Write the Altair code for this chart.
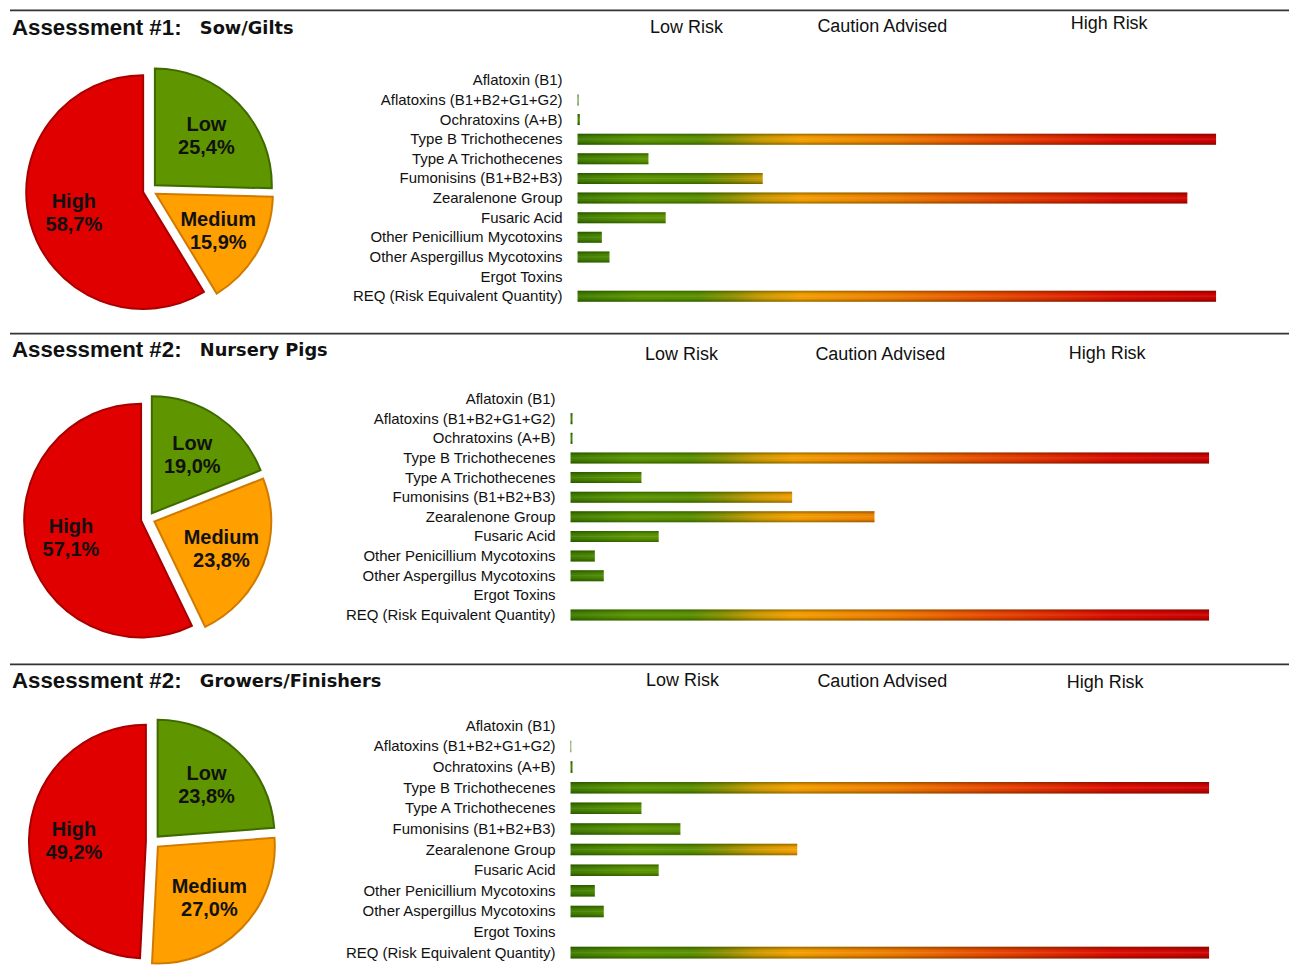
import altair as alt
import pandas as pd

# ---------------- data ----------------
categories = [
    "Aflatoxin (B1)", "Aflatoxins (B1+B2+G1+G2)", "Ochratoxins (A+B)",
    "Type B Trichothecenes", "Type A Trichothecenes", "Fumonisins (B1+B2+B3)",
    "Zearalenone Group", "Fusaric Acid", "Other Penicillium Mycotoxins",
    "Other Aspergillus Mycotoxins", "Ergot Toxins", "REQ (Risk Equivalent Quantity)",
]
risk_labels = ["Low Risk", "Caution Advised", "High Risk"]
slice_names = ["Low", "Medium", "High"]
titles = ["Assessment #1:", "Assessment #2:", "Assessment #2:"]
subtitles = ["Sow/Gilts", "Nursery Pigs", "Growers/Finishers"]

pie_sow = [25.4, 15.9, 58.7]
pie_nursery = [19.0, 23.8, 57.1]
pie_growers = [23.8, 27.0, 49.2]

bars_sow = [0, 0.15, 0.35, 100, 11.1, 29.0, 95.5, 13.8, 3.8, 5.0, 0, 100]
bars_nursery = [0, 0.3, 0.3, 100, 11.1, 34.7, 47.6, 13.8, 3.8, 5.2, 0, 100]
bars_growers = [0, 0.1, 0.3, 100, 11.1, 17.2, 35.5, 13.8, 3.8, 5.2, 0, 100]

# ---------------- styling ----------------
FONT = "Liberation Sans"
PIE_FILL = ["#5f9600", "#ff9f00", "#e00000"]
PIE_STROKE = ["#3f6a00", "#d07a00", "#a80000"]

ABS_STOPS = [
    (0.00, "#3f7c00"), (0.10, "#5a9400"), (0.19, "#5a9000"), (0.24, "#8a9000"),
    (0.29, "#c99a00"), (0.35, "#f5a000"), (0.50, "#f07c00"), (0.65, "#e84a00"),
    (0.85, "#dc0c00"), (1.00, "#cc0000"),
]


def _hex(c):
    return [int(c[i:i + 2], 16) for i in (1, 3, 5)]


def color_at(p):
    for (p0, c0), (p1, c1) in zip(ABS_STOPS[:-1], ABS_STOPS[1:]):
        if p0 <= p <= p1:
            t = 0 if p1 == p0 else (p - p0) / (p1 - p0)
            a, b = _hex(c0), _hex(c1)
            return "#%02x%02x%02x" % tuple(round(a[i] + (b[i] - a[i]) * t) for i in range(3))
    return ABS_STOPS[-1][1]


def bar_gradient(f):
    stops = [alt.GradientStop(offset=p / f, color=c) for p, c in ABS_STOPS if p < f]
    stops.append(alt.GradientStop(offset=1, color=color_at(f)))
    return alt.LinearGradient(gradient="linear", x1=0, y1=0, x2=1, y2=0, stops=stops)


SHADE = alt.LinearGradient(
    gradient="linear", x1=0, y1=0, x2=0, y2=1,
    stops=[
        alt.GradientStop(offset=0, color="rgba(0,30,0,0.38)"),
        alt.GradientStop(offset=0.3, color="rgba(0,0,0,0)"),
        alt.GradientStop(offset=0.5, color="rgba(255,255,255,0.10)"),
        alt.GradientStop(offset=0.7, color="rgba(0,0,0,0)"),
        alt.GradientStop(offset=1, color="rgba(0,30,0,0.38)"),
    ],
)

panels = [
    dict(values=bars_sow, pie=pie_sow, h=332, line_y=10, title_y=35, sub_y=34,
         heads=[(687, 33), (883, 32), (1110, 29)], cx=150, cy=190, R=117,
         r0=80, r1=296, x0=578, x1=1217, lab=563),
    dict(values=bars_nursery, pie=pie_nursery, h=330, line_y=0.5, title_y=24, sub_y=23,
         heads=[(682, 27), (881, 27), (1108, 26)], cx=148, cy=186, R=117,
         r0=66, r1=282, x0=571, x1=1210, lab=556),
    dict(values=bars_growers, pie=pie_growers, h=314, line_y=0.5, title_y=24, sub_y=23,
         heads=[(683, 22), (883, 23), (1106, 24)], cx=153, cy=178, R=117,
         r0=62, r1=289, x0=571, x1=1210, lab=556),
]

EXPLODE = 7
LABEL_R = 72
LABEL_DY = -10


def text_chart(s, x, y, size, bold=False, font=FONT, align="left"):
    return alt.Chart(pd.DataFrame({"t": [s]})).mark_text(
        align=align, baseline="alphabetic", font=font, fontSize=size,
        fontWeight="bold" if bold else "normal", color="#111111",
    ).encode(text="t:N", x=alt.value(x), y=alt.value(y))


def build_panel(i, P):
    n = len(categories)
    step = (P["r1"] - P["r0"]) / (n - 1)
    pin = 0.44
    xs = alt.Scale(domain=[0, 100], range=[P["x0"], P["x1"]], nice=False, zero=True)
    ys = alt.Scale(domain=categories, range=[P["r0"] - step / 2, P["r1"] + step / 2],
                   paddingInner=pin, paddingOuter=pin / 2)
    df = pd.DataFrame({"cat": categories, "v": P["values"]})

    layers = []
    for c, v in zip(categories, P["values"]):
        if v <= 0:
            continue
        layers.append(
            alt.Chart(df).transform_filter(alt.datum.cat == c)
            .mark_bar(color=bar_gradient(v / 100.0))
            .encode(x=alt.X("v:Q", scale=xs, axis=None),
                    y=alt.Y("cat:N", scale=ys, axis=None, sort=categories))
        )
    layers.append(
        alt.Chart(df).transform_filter(alt.datum.v > 0)
        .mark_bar(color=SHADE)
        .encode(x=alt.X("v:Q", scale=xs, axis=None),
                y=alt.Y("cat:N", scale=ys, axis=None, sort=categories))
    )
    layers.append(
        alt.Chart(df).mark_text(align="right", baseline="middle", font=FONT,
                                fontSize=15, color="#111111")
        .encode(x=alt.value(P["lab"]),
                y=alt.Y("cat:N", scale=ys, axis=None, sort=categories),
                text="cat:N")
    )
    bar_group = alt.layer(*layers)

    pdf = pd.DataFrame({"name": slice_names, "v": P["pie"], "o": [0, 1, 2]})
    cx, cy = P["cx"], P["cy"]
    base = (
        alt.Chart(pdf)
        .transform_joinaggregate(total="sum(v)")
        .transform_window(cum="sum(v)", sort=[alt.SortField("o")], frame=[None, 0])
        .transform_calculate(
            t0="2*PI*(datum.cum-datum.v)/datum.total",
            t1="2*PI*datum.cum/datum.total",
        )
        .transform_calculate(mid="(datum.t0+datum.t1)/2")
        .transform_calculate(
            px=f"{cx}+{EXPLODE}*sin(datum.mid)",
            py=f"{cy}-{EXPLODE}*cos(datum.mid)",
            lx=f"{cx}+{EXPLODE + LABEL_R}*sin(datum.mid)",
            ly=f"{cy}-{EXPLODE + LABEL_R}*cos(datum.mid)",
            lab="datum.name + '\\n' + replace(format(datum.v, '.1f'), '.', ',') + '%'",
        )
    )
    arcs = base.mark_arc(radius=P["R"], strokeWidth=2).encode(
        x=alt.X("px:Q", scale=None),
        y=alt.Y("py:Q", scale=None),
        theta=alt.Theta("t0:Q", scale=None),
        theta2="t1:Q",
        fill=alt.Fill("name:N", scale=alt.Scale(domain=slice_names, range=PIE_FILL), legend=None),
        stroke=alt.Stroke("name:N", scale=alt.Scale(domain=slice_names, range=PIE_STROKE), legend=None),
    )
    labels = base.mark_text(font=FONT, fontSize=20, fontWeight="bold", lineBreak="\n",
                            lineHeight=23, baseline="middle", align="center",
                            dy=LABEL_DY, color="#111111").encode(
        x=alt.X("lx:Q", scale=None), y=alt.Y("ly:Q", scale=None), text="lab:N")
    pie_group = alt.layer(arcs, labels)

    deco = [
        alt.Chart(pd.DataFrame({"a": [0]})).mark_rule(color="#333333", strokeWidth=1.6)
        .encode(x=alt.value(10), x2=alt.value(1290), y=alt.value(P["line_y"])),
        text_chart(titles[i], 12, P["title_y"], 22.3, bold=True),
        text_chart(subtitles[i], 200, P["sub_y"], 17.8, bold=True, font="DejaVu Sans"),
    ]
    for s, (hx, hy) in zip(risk_labels, P["heads"]):
        deco.append(text_chart(s, hx, hy, 18, align="center"))
    deco_group = alt.layer(*deco)

    return (
        alt.layer(bar_group, pie_group, deco_group)
        .resolve_scale(x="independent", y="independent")
        .properties(width=1290, height=P["h"])
    )


chart = (
    alt.vconcat(*[build_panel(i, P) for i, P in enumerate(panels)], spacing=0)
    .resolve_scale(x="independent", y="independent", fill="independent", stroke="independent")
    .properties(padding=0, background="white")
    .configure_view(stroke=None)
    .configure_concat(spacing=0)
)

chart.save("out.html", embed_options={"renderer": "svg", "actions": False})
